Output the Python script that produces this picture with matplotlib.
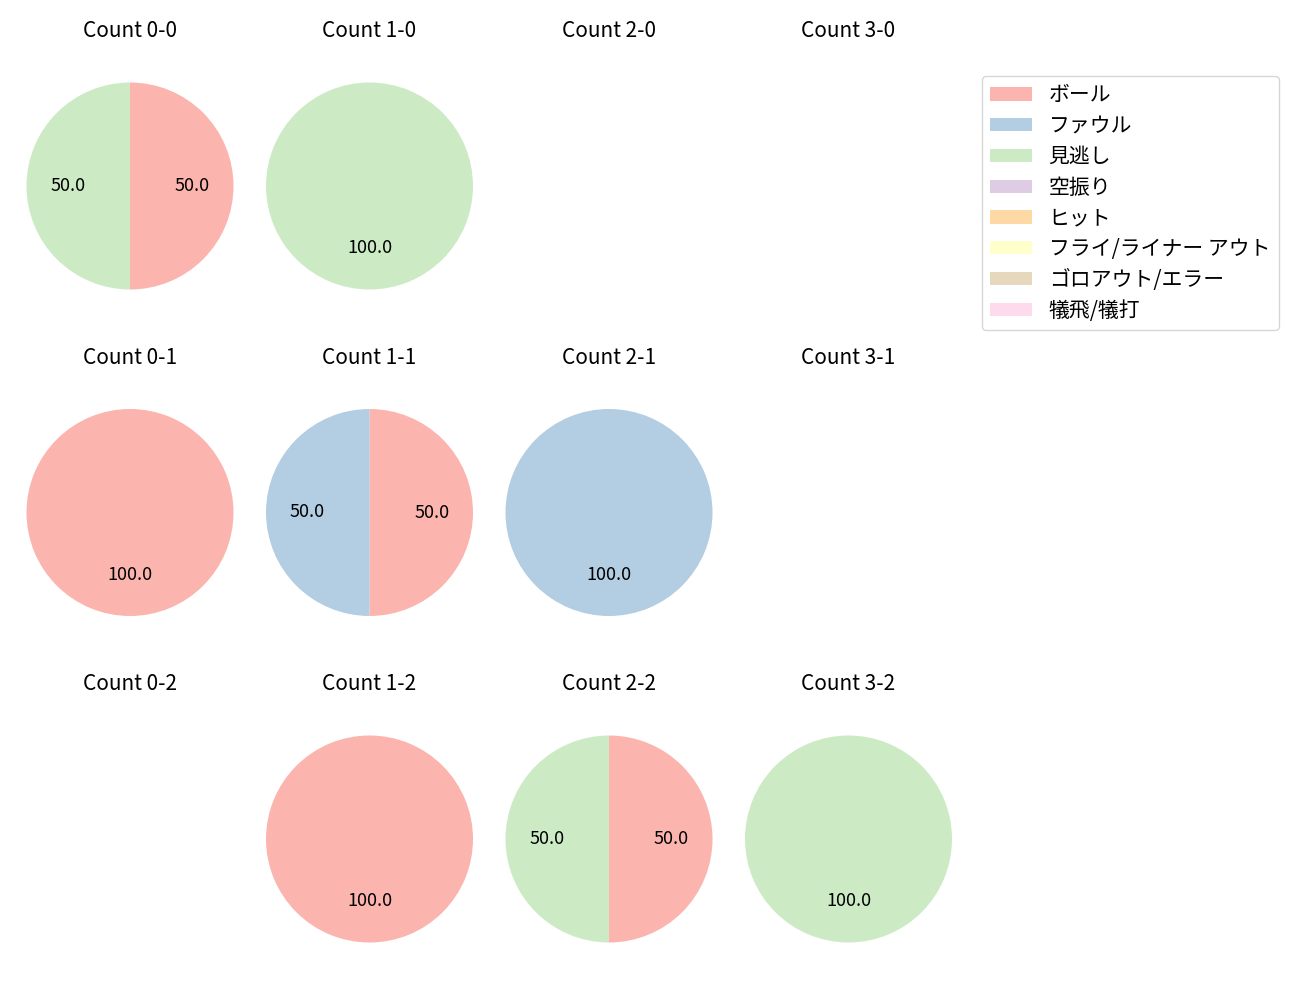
import matplotlib
matplotlib.use("Agg")
import matplotlib.pyplot as plt
from matplotlib.patches import Patch

plt.rcParams['font.family'] = ['Noto Sans CJK JP', 'DejaVu Sans']

categories = ['ボール', 'ファウル', '見逃し', '空振り', 'ヒット',
              'フライ/ライナー アウト', 'ゴロアウト/エラー', '犠飛/犠打']
colors = ['#fbb4ae', '#b3cde3', '#ccebc5', '#decbe4', '#fed9a6',
          '#ffffcc', '#e5d8bd', '#fddaec']

# counts per pitch-count situation (balls-strikes), values per category
counts = {
    '0-0': [1, 0, 1, 0, 0, 0, 0, 0],
    '1-0': [0, 0, 1, 0, 0, 0, 0, 0],
    '2-0': [0, 0, 0, 0, 0, 0, 0, 0],
    '3-0': [0, 0, 0, 0, 0, 0, 0, 0],
    '0-1': [1, 0, 0, 0, 0, 0, 0, 0],
    '1-1': [1, 1, 0, 0, 0, 0, 0, 0],
    '2-1': [0, 1, 0, 0, 0, 0, 0, 0],
    '3-1': [0, 0, 0, 0, 0, 0, 0, 0],
    '0-2': [0, 0, 0, 0, 0, 0, 0, 0],
    '1-2': [1, 0, 0, 0, 0, 0, 0, 0],
    '2-2': [1, 0, 1, 0, 0, 0, 0, 0],
    '3-2': [0, 0, 1, 0, 0, 0, 0, 0],
}

W, H = 1300, 1000
fig = plt.figure(figsize=(13, 10), dpi=100)

cx = [130, 369.5, 609, 848.5]
cy = [186, 512.5, 839]
R = 103.5
side = 2.5 * R

for s in range(3):
    for b in range(4):
        key = f'{b}-{s}'
        x0 = (cx[b] - side / 2) / W
        y0 = 1 - (cy[s] + side / 2) / H
        ax = fig.add_axes([x0, y0, side / W, side / H])
        vals = counts[key]
        nz = [(v, c) for v, c in zip(vals, colors) if v > 0]
        if nz:
            ax.pie([v for v, _ in nz], colors=[c for _, c in nz],
                   startangle=90, counterclock=False, autopct='%.1f',
                   textprops={'fontsize': 13})
        ax.set_xlim(-1.25, 1.25)
        ax.set_ylim(-1.25, 1.25)
        ax.set_aspect('equal')
        ax.axis('off')
        ax.set_title(f'Count {key}', fontsize=15, pad=14)

handles = [Patch(facecolor=c) for c in colors]
fig.legend(handles, categories, loc='upper left',
           bbox_to_anchor=(982 / W, 1 - 76 / H), fontsize=15,
           borderaxespad=0, labelspacing=0.42, handlelength=2.0,
           handleheight=0.6)

fig.savefig('out.png', dpi=100)
